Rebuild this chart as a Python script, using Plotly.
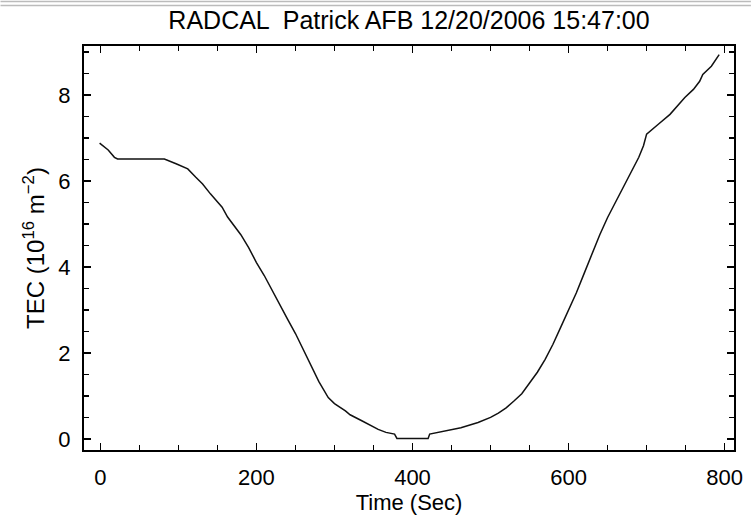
import plotly.graph_objects as go

# Data
time_sec = [-1, 10, 18, 22, 40, 60, 82, 97, 112, 122, 131, 141, 156, 163, 170, 180, 190, 200,
            210, 220, 230, 240, 250, 260, 270, 280, 292, 300, 314, 320, 335, 345, 356, 366,
            377, 380, 400, 420, 422, 441, 462, 484, 500, 510, 520, 530, 540, 550, 560, 570,
            580, 590, 600, 610, 620, 630, 640, 650, 660, 670, 680, 690, 696, 700, 715,
            730, 749, 760, 768, 772, 783, 793]
tec = [6.88, 6.72, 6.55, 6.51, 6.51, 6.51, 6.51, 6.40, 6.28, 6.09, 5.93, 5.70, 5.39, 5.16, 5.00,
       4.75, 4.45, 4.10, 3.80, 3.45, 3.10, 2.78, 2.45, 2.08, 1.70, 1.33, 0.96, 0.82, 0.65, 0.56,
       0.42, 0.32, 0.22, 0.15, 0.11, 0.01, 0.01, 0.01, 0.11, 0.185, 0.26, 0.38, 0.50, 0.60, 0.72,
       0.88, 1.05, 1.30, 1.55, 1.85, 2.20, 2.60, 3.00, 3.40, 3.85, 4.30, 4.75, 5.15, 5.50, 5.85,
       6.20, 6.55, 6.82, 7.09, 7.32, 7.55, 7.94, 8.13, 8.32, 8.48, 8.67, 8.94]

title_text = "RADCAL  Patrick AFB 12/20/2006 15:47:00"
x_title = "Time (Sec)"
y_title = "TEC (10<sup>16</sup> m<sup>−2</sup>)"
x_ticks = [0, 200, 400, 600, 800]
y_ticks = [0, 2, 4, 6, 8]

FONT = "Liberation Sans, Arial, sans-serif"
W, H = 755, 522
ML, MR, MT, MB = 84, 17, 46, 70

fig = go.Figure()
fig.add_trace(go.Scatter(x=time_sec, y=tec, mode="lines",
                         line=dict(color="#111111", width=1.5), showlegend=False,
                         hoverinfo="skip"))

axis_common = dict(showline=True, linecolor="black", linewidth=2, mirror="ticks",
                   ticks="inside", ticklen=7, tickwidth=1.5, tickcolor="black",
                   showgrid=False, zeroline=False, ticklabelstandoff=7,
                   tickfont=dict(family=FONT, size=22, color="black"))

fig.update_xaxes(range=[-21, 812], tickvals=x_ticks,
                 minor=dict(dtick=50, ticks="inside", ticklen=5, tickcolor="black", tickwidth=1.5, showgrid=False),
                 title=dict(text=x_title, font=dict(family=FONT, size=22, color="black"), standoff=4),
                 **axis_common)
fig.update_yaxes(range=[-0.26, 9.14], tickvals=y_ticks,
                 minor=dict(dtick=0.5, ticks="inside", ticklen=5, tickcolor="black", tickwidth=1.5, showgrid=False),
                 title=dict(text=y_title, font=dict(family=FONT, size=24, color="black"), standoff=7),
                 **axis_common)

pw = W - ML - MR
ph = H - MT - MB
for py in (1.3, 5.3):
    yp = (H - MB - py) / ph
    fig.add_shape(type="line", xref="paper", yref="paper",
                  x0=-ML / pw, x1=(W - ML) / pw, y0=yp, y1=yp,
                  line=dict(color="#bbbbbb", width=1.5))

fig.update_layout(
    width=W, height=H,
    margin=dict(l=ML, r=MR, t=MT, b=MB),
    paper_bgcolor="white", plot_bgcolor="white",
    hovermode=False,
    title=dict(text=title_text, x=(409 / W), xanchor="center", y=1 - 20 / H, yanchor="middle",
               font=dict(family=FONT, size=25, color="black")),
)

fig.write_html("out.html", config={"displayModeBar": False, "staticPlot": True},
               post_script="document.body.style.margin='0';document.body.style.overflow='hidden';")
